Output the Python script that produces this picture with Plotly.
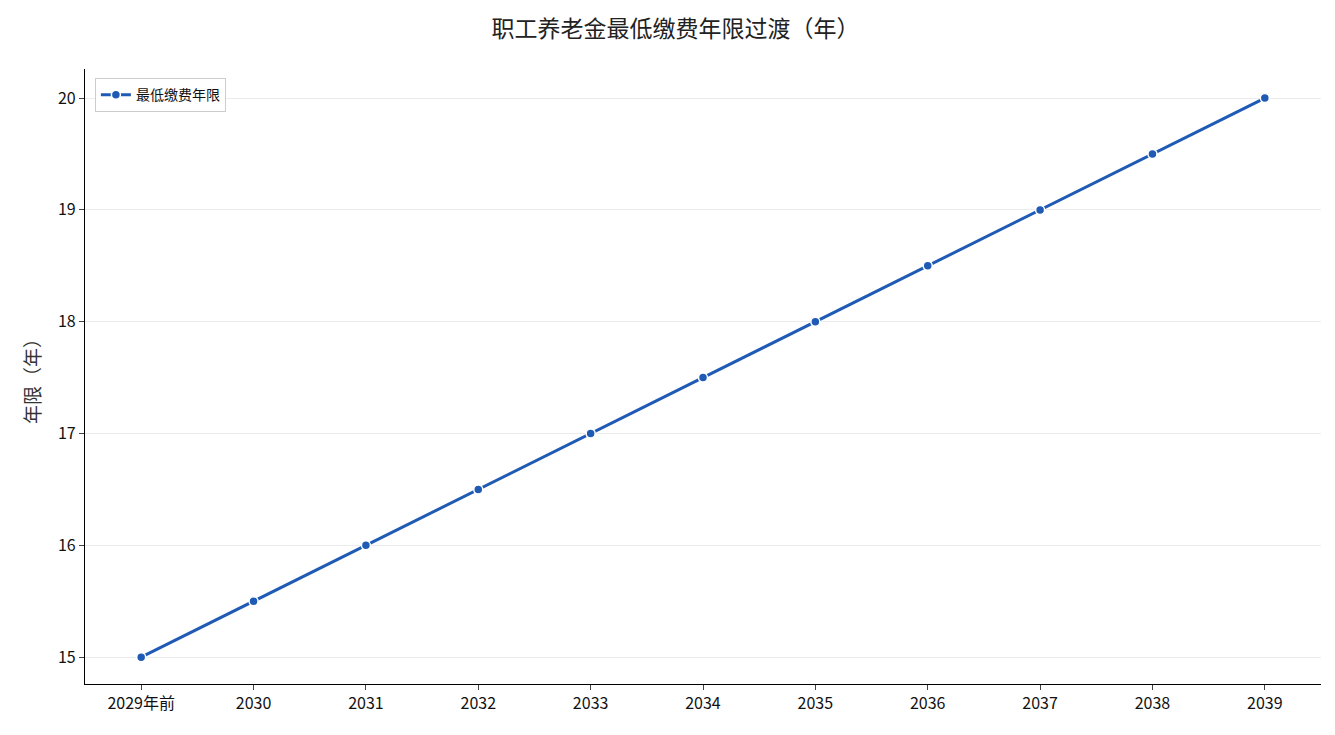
import plotly.graph_objects as go

years = ["2029年前", "2030", "2031", "2032", "2033", "2034", "2035", "2036", "2037", "2038", "2039"]
min_years = [15, 15.5, 16, 16.5, 17, 17.5, 18, 18.5, 19, 19.5, 20]

fig = go.Figure()
fig.add_trace(go.Scatter(
    x=years,
    y=min_years,
    mode="lines+markers",
    name="最低缴费年限",
    line=dict(color="#1f5bb5", width=3),
    marker=dict(size=9, color="#1f5bb5", line=dict(color="white", width=1.5))
))

font_name = "Noto Sans CJK SC"
fig.update_layout(
    width=1335, height=735,
    font=dict(family=font_name, size=16, color="#111"),
    title=dict(text="职工养老金最低缴费年限过渡（年）", x=0.5, xanchor="center",
               y=0.971, yanchor="middle", font=dict(size=23, color="#222")),
    plot_bgcolor="white", paper_bgcolor="white",
    margin=dict(l=77, r=22, t=61, b=59),
    legend=dict(x=0.008, y=0.985, xanchor="left", yanchor="top",
                bordercolor="#ccc", borderwidth=1, bgcolor="white",
                font=dict(size=14)),
    showlegend=True,
)
fig.update_xaxes(
    range=[-0.5, 10.5], showline=True, linecolor="black", linewidth=1.2,
    ticks="outside", ticklen=5, showgrid=False, tickfont=dict(size=16),
    automargin=False
)
fig.update_yaxes(
    range=[14.76, 20.26], showline=True, linecolor="black", linewidth=1.2,
    ticks="outside", ticklen=5, showgrid=True, gridcolor="#ececec",
    dtick=1, tickfont=dict(size=16), automargin=False,
    title=dict(text="年限（年）", font=dict(size=19, color="#333"), standoff=12), zeroline=False
)

fig.write_html("out.html")
